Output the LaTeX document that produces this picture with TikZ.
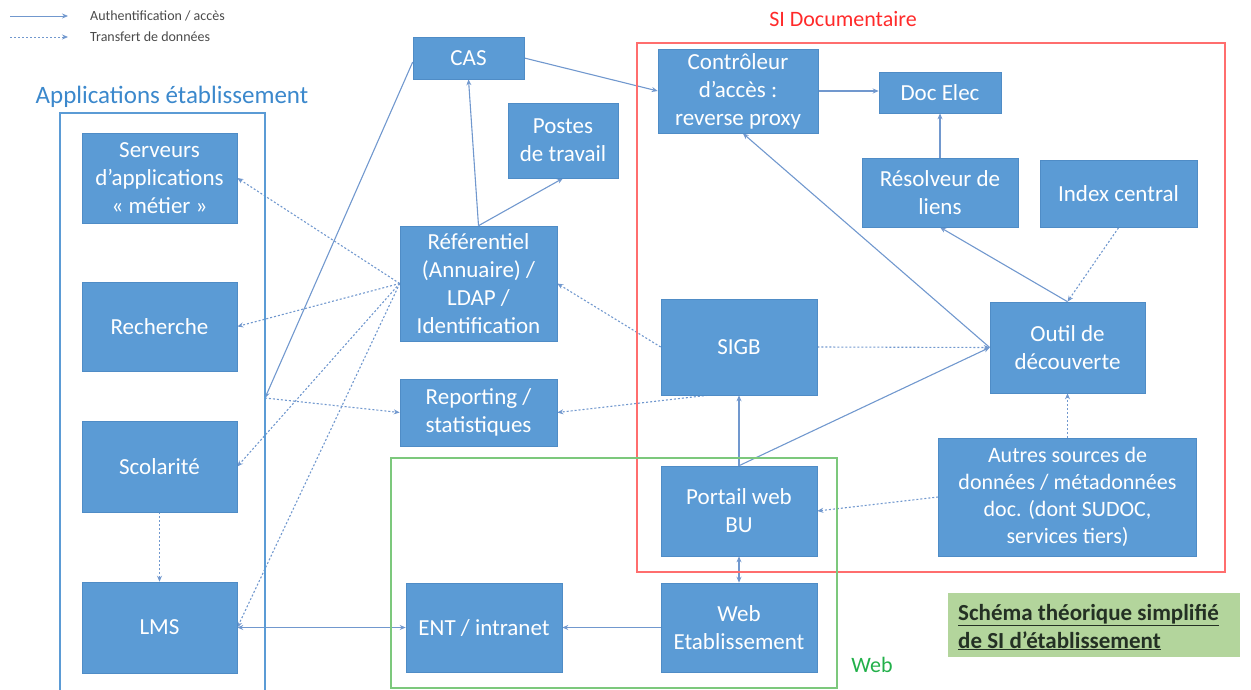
\documentclass[tikz,border=0pt]{standalone}
\usepackage{fontspec}
\setmainfont{Carlito}
\usetikzlibrary{arrows.meta,calc,backgrounds}
\definecolor{boxblue}{HTML}{5B9BD5}
\definecolor{boxedge}{HTML}{4F8CC6}
\definecolor{linec}{HTML}{7198CE}
\definecolor{apptitle}{HTML}{3B88CC}
\definecolor{redframe}{HTML}{FF6E6E}
\definecolor{redtitle}{HTML}{FF2A2A}
\definecolor{greenframe}{HTML}{7CC87C}
\definecolor{greentitle}{HTML}{22B04A}
\definecolor{titlefill}{HTML}{B3D59C}
\definecolor{titletext}{HTML}{243024}
\definecolor{legendtext}{HTML}{4A4A4A}
\begin{document}
\begin{tikzpicture}[x=1pt,y=-1pt,
  box/.style={draw=boxedge, line width=0.6pt, fill=boxblue, text=white, align=center,
    inner sep=2pt, font=\fontsize{23}{28}\selectfont},
  auth/.style={draw=linec, line width=1.1pt, -{Stealth[length=6pt,width=5pt]}},
  bothauth/.style={draw=linec, line width=1.1pt, {Stealth[length=6pt,width=5pt]}-{Stealth[length=6pt,width=5pt]}},
  data/.style={auth, dash pattern=on 2pt off 2pt},
  frametitle/.style={font=\fontsize{23}{28}\selectfont, inner sep=0pt},
  legtext/.style={font=\fontsize{14}{16}\selectfont, text=legendtext, anchor=west, inner sep=0pt}
]
\useasboundingbox (0,0) rectangle (1251,690);

% legend
\coordinate (l1a) at (10,16); \coordinate (l1b) at (68,16);
\coordinate (l2a) at (10,37); \coordinate (l2b) at (68,37);
\draw[auth, line width=0.8pt] (l1a) -- (l1b);
\draw[data, line width=0.8pt] (l2a) -- (l2b);
\node[legtext] (leg1) at (90,16) {Authentification / accès};
\node[legtext] (leg2) at (90,37) {Transfert de données};

% frames
\draw[draw=boxblue, line width=1.3pt] (60,695) -- (60,113) -- (265,113) -- (265,695);
\node[frametitle, text=apptitle, font=\fontsize{25}{30}\selectfont] (apptl) at (172,97) {Applications établissement};
\draw[draw=redframe, line width=1.3pt] (637,43) rectangle (1225,572);
\node[frametitle, text=redtitle, font=\fontsize{22}{26}\selectfont] (sitl) at (843,19) {SI Documentaire};
\draw[draw=greenframe, line width=1.1pt] (391,458) rectangle (837,688);
\node[frametitle, text=greentitle, font=\fontsize{22}{26}\selectfont] (webtl) at (872,665) {Web};

% boxes
\node[box, minimum width=155, minimum height=90] (serv) at (159.5,178) {Serveurs\\d’applications\\« métier »};
\node[box, minimum width=155, minimum height=89] (rech) at (159.5,326.5) {Recherche};
\node[box, minimum width=155, minimum height=91] (scol) at (159.5,466.5) {Scolarité};
\node[box, minimum width=155, minimum height=91] (lms) at (159.5,627.5) {LMS};
\node[box, minimum width=111, minimum height=42] (cas) at (468.5,58) {CAS};
\node[box, minimum width=110, minimum height=75] (postes) at (563,140.5) {Postes\\de travail};
\node[box, minimum width=157, minimum height=115] (ref) at (478.5,283.5) {Référentiel\\(Annuaire) /\\LDAP /\\Identification};
\node[box, minimum width=157, minimum height=67] (rep) at (478.5,412.5) {Reporting /\\statistiques};
\node[box, minimum width=160, minimum height=84] (ctrl) at (738,91) {Contrôleur\\d’accès :\\reverse proxy};
\node[box, minimum width=122, minimum height=41] (doc) at (940,92.5) {Doc Elec};
\node[box, minimum width=156, minimum height=69] (resolv) at (940,192.5) {Résolveur de\\liens};
\node[box, minimum width=157, minimum height=67] (index) at (1118.5,194) {Index central};
\node[box, minimum width=156, minimum height=96] (sigb) at (739,347) {SIGB};
\node[box, minimum width=155, minimum height=91] (outil) at (1067.5,347.5) {Outil de\\découverte};
\node[box, minimum width=258, minimum height=118, font=\fontsize{22}{27}\selectfont] (autres) at (1067.5,497) {Autres sources de\\données / métadonnées\\doc. (dont SUDOC,\\services tiers)};
\node[box, minimum width=156, minimum height=90] (portail) at (739,511) {Portail web\\BU};
\node[box, minimum width=156, minimum height=89] (web) at (739,627.5) {Web\\Etablissement};
\node[box, minimum width=156, minimum height=89] (ent) at (484,627.5) {ENT / intranet};

\node[fill=titlefill, minimum width=292, minimum height=64, inner sep=0pt] (tbox) at (1094,625) {};
\node[anchor=west, align=left, text=titletext, inner sep=0pt,
  font=\fontsize{23}{28}\selectfont\bfseries] (ttext) at (958,627)
  {\underline{Schéma théorique simplifié}\\\underline{de SI d’établissement}};

% helper coordinates
\coordinate (apppt) at (265,398);
\coordinate (caslow) at ($(cas.west)+(0,4)$);
\coordinate (ctrlbot) at ($(ctrl.south west)!0.53!(ctrl.south east)$);
\coordinate (sigbbot) at ($(sigb.south west)!0.3!(sigb.south east)$);

\begin{scope}[on background layer]
% authentication
\draw[auth] (cas.east) -- (ctrl.west);
\draw[auth] (ctrl.east) -- (ctrl.east -| doc.west);
\draw[auth] (resolv.north) -- (doc.south);
\draw[auth] (outil.north) -- (resolv.south);
\draw[auth] (outil.west) -- (ctrlbot);
\draw[auth] (portail.north) -- (outil.west);
\draw[auth] (portail.north) -- (sigb.south);
\draw[bothauth] (portail.south) -- (web.north);
\draw[auth] (web.west) -- (ent.east);
\draw[bothauth] (lms.east) -- (ent.west);
\draw[auth] (ref.north) -- (cas.south);
\draw[auth] (ref.north) -- (postes.south);
\draw[auth] (caslow) -- (apppt);
% data
\draw[data] (apppt) -- (rep.west);
\draw[data] (ref.west) -- (serv.east);
\draw[data] (ref.west) -- (rech.east);
\draw[data] (ref.west) -- (scol.east);
\draw[data] (ref.west) -- (lms.east);
\draw[data] (sigb.west) -- (ref.east);
\draw[data] (sigbbot) -- (rep.east);
\draw[data] (sigb.east) -- (outil.west);
\draw[data] (index.south) -- (outil.north);
\draw[data] (autres.north) -- (outil.south);
\draw[data] (autres.west) -- (portail.east);
\draw[data] (scol.south) -- (lms.north);
\end{scope}
\end{tikzpicture}
\end{document}
